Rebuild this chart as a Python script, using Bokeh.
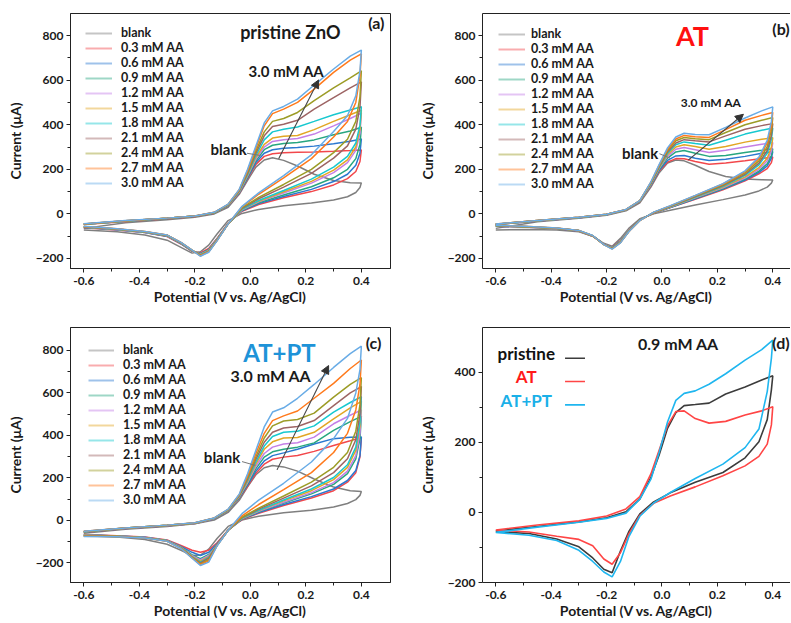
from bokeh.plotting import figure
from bokeh.layouts import column, row
from bokeh.models import (Range1d, FixedTicker, CustomJSTickFormatter, Legend, LegendItem,
                          Label, Arrow, NormalHead, LinearAxis)
from bokeh.embed import file_html
from bokeh.resources import INLINE

# ---------------- data ----------------
E_FWD = [-0.6, -0.45, -0.3, -0.2, -0.13, -0.08, -0.04, -0.01, 0.02, 0.05, 0.08, 0.12, 0.17, 0.23, 0.3, 0.36, 0.4]
E_REV = [0.4, 0.395, 0.38, 0.35, 0.3, 0.22, 0.12, 0.03, -0.03, -0.08, -0.12, -0.15, -0.18, -0.21, -0.25, -0.3, -0.38, -0.48, -0.6]

SERIES = ["blank", "0.3 mM AA", "0.6 mM AA", "0.9 mM AA", "1.2 mM AA", "1.5 mM AA",
          "1.8 mM AA", "2.1 mM AA", "2.4 mM AA", "2.7 mM AA", "3.0 mM AA"]
SERIES_COLORS = ["#7f7f7f", "#f2474b", "#2a78d0", "#27a680", "#c47fe6", "#e2a624",
                 "#17c8cf", "#9d6464", "#9c9c26", "#ff7a1c", "#69ace6"]

X_TICKS = [-0.6, -0.4, -0.2, 0.0, 0.2, 0.4]
X_MINOR = [-0.5, -0.3, -0.1, 0.1, 0.3]
Y_TICKS_ABC = [-200, 0, 200, 400, 600, 800]
Y_MINOR_ABC = [-100, 100, 300, 500, 700]
Y_TICKS_D = [-200, 0, 200, 400]
Y_MINOR_D = [-100, 100, 300]
X_LABEL = "Potential (V vs. Ag/AgCl)"
Y_LABEL = "Current (\u03bcA)"

# (a) pristine ZnO -- forward (E_FWD) and reverse (E_REV) currents, uA
A_F_BLANK = [-65, -40, -26, -15, 0, 30, 88, 150, 210, 242, 252, 240, 215, 178, 150, 140, 139]
A_F_03 = [-48, -34, -22, -12, 3, 35, 92, 158, 222, 258, 270, 274, 276, 278, 281, 284, 287]
A_F_06 = [-47, -33, -21, -11, 4, 36, 94, 162, 230, 272, 288, 294, 298, 304, 315, 326, 336]
A_F_09 = [-47, -33, -21, -11, 4, 37, 96, 166, 238, 288, 308, 316, 320, 332, 355, 372, 389]
A_F_12 = [-46, -32, -20, -10, 5, 38, 98, 170, 246, 300, 325, 333, 338, 358, 395, 428, 452]
A_F_15 = [-46, -32, -20, -10, 5, 39, 100, 174, 254, 312, 340, 348, 352, 378, 415, 445, 465]
A_F_18 = [-46, -32, -20, -10, 5, 40, 102, 178, 262, 332, 368, 380, 390, 415, 445, 466, 481]
A_F_21 = [-45, -31, -20, -10, 6, 41, 104, 183, 272, 350, 392, 402, 420, 470, 522, 565, 592]
A_F_24 = [-45, -31, -19, -9, 6, 42, 106, 188, 282, 368, 415, 428, 455, 508, 565, 610, 642]
A_F_27 = [-45, -31, -19, -9, 7, 43, 108, 194, 295, 395, 450, 470, 500, 560, 635, 690, 718]
A_F_30 = [-44, -30, -19, -9, 7, 44, 110, 200, 305, 408, 462, 482, 515, 578, 650, 708, 735]

A_R_BLANK = [139, 118, 96, 77, 62, 49, 37, 20, 2, -30, -90, -140, -170, -176, -150, -118, -95, -80, -72]
A_R_03 = [287, 235, 190, 158, 130, 100, 72, 42, 12, -42, -110, -155, -175, -168, -135, -102, -84, -72, -62]
A_R_06 = [336, 272, 218, 178, 145, 110, 78, 46, 14, -43, -112, -160, -178, -167, -133, -100, -83, -71, -61]
A_R_09 = [389, 312, 248, 200, 162, 122, 85, 50, 16, -44, -114, -162, -180, -166, -132, -99, -82, -70, -60]
A_R_12 = [452, 362, 285, 230, 185, 138, 94, 54, 18, -44, -115, -164, -181, -165, -131, -98, -82, -70, -59]
A_R_15 = [465, 380, 300, 242, 196, 146, 99, 57, 20, -45, -116, -165, -182, -165, -130, -97, -81, -69, -59]
A_R_18 = [481, 398, 318, 258, 210, 156, 105, 60, 22, -45, -117, -166, -183, -164, -130, -97, -81, -69, -58]
A_R_21 = [592, 480, 380, 305, 250, 182, 120, 68, 25, -45, -118, -168, -185, -164, -129, -96, -80, -68, -58]
A_R_24 = [642, 525, 415, 335, 275, 200, 132, 74, 28, -45, -119, -169, -186, -163, -129, -96, -80, -68, -57]
A_R_27 = [718, 620, 500, 415, 345, 248, 162, 88, 32, -45, -120, -170, -188, -163, -128, -95, -79, -67, -57]
A_R_30 = [735, 640, 530, 440, 370, 265, 172, 94, 34, -45, -121, -172, -190, -163, -128, -95, -79, -67, -56]

# (b) AT
B_F_BLANK = [-65, -35, -20, -6, 14, 50, 120, 185, 228, 242, 238, 218, 190, 168, 156, 153, 152]
B_F_03 = [-48, -32, -17, -4, 17, 54, 126, 192, 232, 248, 247, 235, 223, 228, 238, 248, 255]
B_F_06 = [-48, -32, -17, -4, 17, 55, 128, 196, 240, 260, 262, 250, 240, 245, 258, 272, 280]
B_F_09 = [-47, -31, -16, -3, 18, 56, 130, 200, 250, 278, 284, 272, 258, 262, 275, 285, 292]
B_F_12 = [-47, -31, -16, -3, 18, 57, 132, 204, 258, 290, 298, 288, 275, 285, 300, 312, 320]
B_F_15 = [-47, -31, -16, -3, 18, 57, 134, 207, 265, 300, 310, 302, 290, 302, 322, 335, 342]
B_F_18 = [-46, -31, -16, -3, 19, 58, 136, 210, 272, 310, 323, 316, 308, 330, 358, 375, 385]
B_F_21 = [-46, -30, -15, -2, 19, 58, 138, 213, 278, 318, 333, 328, 323, 350, 380, 396, 405]
B_F_24 = [-46, -30, -15, -2, 19, 59, 140, 216, 284, 328, 343, 337, 333, 365, 400, 420, 432]
B_F_27 = [-45, -30, -15, -2, 20, 59, 142, 219, 290, 336, 352, 346, 343, 378, 420, 442, 455]
B_F_30 = [-45, -30, -15, -2, 20, 60, 144, 222, 296, 345, 362, 356, 355, 388, 430, 462, 480]

B_R_BLANK = [152, 138, 120, 103, 85, 64, 40, 16, 0, -22, -65, -110, -145, -132, -100, -80, -72, -70, -72]
B_R_03 = [255, 230, 203, 180, 148, 108, 66, 28, 3, -26, -75, -120, -148, -136, -100, -77, -66, -60, -55]
B_R_06 = [280, 250, 215, 186, 152, 111, 68, 29, 4, -26, -76, -122, -150, -136, -100, -77, -66, -60, -55]
B_R_09 = [292, 262, 225, 192, 156, 114, 70, 30, 4, -27, -77, -123, -151, -136, -99, -76, -65, -59, -54]
B_R_12 = [320, 282, 238, 200, 161, 117, 72, 31, 5, -27, -77, -124, -152, -136, -99, -76, -65, -59, -54]
B_R_15 = [342, 300, 250, 208, 166, 120, 74, 32, 5, -28, -78, -125, -153, -137, -99, -76, -65, -59, -53]
B_R_18 = [385, 335, 272, 220, 173, 124, 76, 33, 6, -28, -78, -126, -154, -137, -98, -75, -64, -58, -53]
B_R_21 = [405, 352, 285, 228, 178, 127, 78, 34, 6, -29, -79, -127, -155, -137, -98, -75, -64, -58, -52]
B_R_24 = [432, 375, 302, 238, 184, 130, 80, 35, 7, -29, -79, -128, -156, -138, -98, -75, -64, -58, -52]
B_R_27 = [455, 395, 318, 248, 190, 134, 82, 36, 7, -30, -80, -129, -157, -138, -98, -74, -63, -57, -51]
B_R_30 = [480, 415, 330, 255, 193, 136, 83, 37, 8, -30, -80, -130, -158, -138, -97, -74, -63, -57, -51]

# (c) AT+PT
C_F_BLANK = [-60, -42, -28, -16, 2, 38, 95, 158, 215, 248, 259, 252, 232, 195, 157, 140, 136]
C_F_03 = [-55, -38, -25, -14, 8, 44, 105, 160, 222, 265, 288, 298, 306, 325, 353, 375, 390]
C_F_06 = [-54, -38, -25, -14, 8, 45, 107, 166, 232, 280, 305, 318, 335, 360, 385, 391, 393]
C_F_09 = [-54, -37, -24, -13, 9, 46, 109, 172, 244, 298, 323, 335, 345, 365, 424, 465, 490]
C_F_12 = [-53, -37, -24, -13, 9, 47, 111, 178, 255, 315, 345, 360, 366, 392, 455, 495, 520]
C_F_15 = [-53, -37, -24, -13, 10, 48, 113, 184, 266, 335, 370, 388, 390, 415, 478, 530, 560]
C_F_18 = [-53, -36, -23, -12, 10, 49, 115, 190, 276, 350, 395, 415, 420, 445, 510, 555, 582]
C_F_21 = [-52, -36, -23, -12, 11, 50, 117, 196, 288, 368, 415, 435, 442, 470, 540, 600, 630]
C_F_24 = [-52, -36, -23, -12, 11, 51, 119, 202, 300, 388, 445, 468, 475, 505, 580, 640, 672]
C_F_27 = [-51, -35, -22, -11, 12, 52, 121, 210, 315, 410, 470, 492, 515, 575, 645, 715, 755]
C_F_30 = [-51, -35, -22, -11, 12, 53, 124, 220, 330, 440, 510, 530, 575, 640, 720, 785, 820]

C_R_BLANK = [136, 118, 98, 80, 63, 48, 36, 20, 2, -28, -85, -135, -163, -165, -140, -112, -90, -78, -72]
C_R_03 = [390, 300, 225, 180, 140, 106, 70, 34, 4, -45, -105, -140, -150, -140, -118, -92, -78, -72, -66]
C_R_06 = [393, 305, 235, 188, 148, 112, 75, 37, 6, -46, -110, -150, -165, -150, -122, -94, -79, -73, -67]
C_R_09 = [490, 385, 290, 220, 170, 125, 82, 41, 8, -46, -114, -160, -180, -162, -125, -95, -80, -73, -68]
C_R_12 = [520, 410, 305, 232, 178, 131, 86, 43, 9, -46, -115, -165, -186, -166, -126, -95, -80, -74, -69]
C_R_15 = [560, 445, 330, 250, 192, 140, 92, 46, 10, -46, -116, -170, -192, -170, -127, -96, -81, -74, -70]
C_R_18 = [582, 462, 345, 262, 202, 148, 96, 48, 11, -46, -116, -174, -196, -172, -128, -96, -81, -75, -71]
C_R_21 = [630, 500, 380, 290, 225, 163, 105, 53, 13, -46, -117, -178, -200, -174, -129, -97, -82, -75, -72]
C_R_24 = [672, 545, 420, 320, 250, 180, 115, 58, 15, -46, -118, -185, -204, -174, -130, -97, -82, -76, -73]
C_R_27 = [755, 640, 520, 410, 320, 225, 145, 75, 22, -46, -118, -190, -208, -176, -131, -98, -83, -76, -74]
C_R_30 = [820, 710, 600, 480, 385, 275, 175, 96, 32, -46, -120, -196, -212, -178, -132, -98, -83, -77, -75]

# (d) 0.9 mM AA comparison
D_NAMES = ["pristine", "AT", "AT+PT"]
D_TEXT_COLORS = ["#111111", "#ff1a1a", "#1ab0e8"]
D_LINE_COLORS = ["#3c3c3c", "#ff4545", "#1fb6ef"]
D_F_PRISTINE = [-53, -40, -27, -15, 2, 38, 100, 165, 240, 285, 305, 308, 312, 338, 358, 378, 390]
D_R_PRISTINE = [390, 350, 265, 202, 156, 114, 86, 56, 30, -4, -55, -110, -172, -162, -130, -98, -76, -60, -55]
D_F_AT = [-50, -36, -24, -10, 10, 45, 110, 178, 248, 288, 290, 268, 255, 260, 278, 290, 302]
D_R_AT = [302, 250, 195, 160, 133, 105, 73, 47, 26, -8, -62, -115, -148, -133, -95, -77, -68, -56, -50]
D_F_ATPT = [-57, -42, -28, -17, -2, 38, 95, 172, 258, 320, 340, 347, 366, 396, 435, 465, 492]
D_R_ATPT = [492, 440, 345, 238, 185, 138, 97, 57, 27, -11, -70, -140, -184, -170, -140, -108, -80, -65, -57]

A_FWD = [A_F_BLANK, A_F_03, A_F_06, A_F_09, A_F_12, A_F_15, A_F_18, A_F_21, A_F_24, A_F_27, A_F_30]
A_REV = [A_R_BLANK, A_R_03, A_R_06, A_R_09, A_R_12, A_R_15, A_R_18, A_R_21, A_R_24, A_R_27, A_R_30]
B_FWD = [B_F_BLANK, B_F_03, B_F_06, B_F_09, B_F_12, B_F_15, B_F_18, B_F_21, B_F_24, B_F_27, B_F_30]
B_REV = [B_R_BLANK, B_R_03, B_R_06, B_R_09, B_R_12, B_R_15, B_R_18, B_R_21, B_R_24, B_R_27, B_R_30]
C_FWD = [C_F_BLANK, C_F_03, C_F_06, C_F_09, C_F_12, C_F_15, C_F_18, C_F_21, C_F_24, C_F_27, C_F_30]
C_REV = [C_R_BLANK, C_R_03, C_R_06, C_R_09, C_R_12, C_R_15, C_R_18, C_R_21, C_R_24, C_R_27, C_R_30]
D_FWD = [D_F_PRISTINE, D_F_AT, D_F_ATPT]
D_REV = [D_R_PRISTINE, D_R_AT, D_R_ATPT]

# ---------------- styling helpers ----------------
FONT = "Lato"
INK = "#1a1a1a"
NAN = float("nan")


def make_fig(width, height, bl, br, bt, bb, xr, yr, yticks, yminor, box_right):
    p = figure(width=width, height=height, x_range=Range1d(*xr), y_range=Range1d(*yr),
               output_backend="svg", toolbar_location=None,
               min_border_left=bl, min_border_right=br, min_border_top=bt, min_border_bottom=bb)
    p.grid.visible = False
    p.background_fill_color = "white"
    p.border_fill_color = "white"
    p.outline_line_color = "#222222" if box_right else None
    p.outline_line_width = 1
    for ax in (p.xaxis[0], p.yaxis[0]):
        ax.axis_line_color = "#222222"
        ax.axis_line_width = 1
        ax.major_tick_line_color = "#222222"
        ax.minor_tick_line_color = "#222222"
        ax.major_tick_out = 4
        ax.major_tick_in = 0
        ax.minor_tick_out = 3
        ax.minor_tick_in = 0
        ax.major_label_text_font = FONT
        ax.major_label_text_font_style = "bold"
        ax.major_label_text_font_size = "12px"
        ax.major_label_text_color = INK
        ax.axis_label_text_font = FONT
        ax.axis_label_text_font_style = "bold"
        ax.axis_label_text_font_size = "14px"
        ax.axis_label_text_color = INK
    p.xaxis.ticker = FixedTicker(ticks=X_TICKS, minor_ticks=X_MINOR)
    p.xaxis.formatter = CustomJSTickFormatter(code="return tick.toFixed(1);")
    p.xaxis.axis_label = X_LABEL
    p.xaxis.major_label_standoff = 4
    p.xaxis.axis_label_standoff = 0
    p.yaxis.ticker = FixedTicker(ticks=yticks, minor_ticks=yminor)
    p.yaxis.axis_label = Y_LABEL
    p.yaxis.major_label_standoff = 3
    p.yaxis.axis_label_standoff = 9
    if not box_right:
        top = LinearAxis(ticker=FixedTicker(ticks=[]), major_tick_out=0, major_tick_in=0,
                         minor_tick_out=0, minor_tick_in=0, major_label_standoff=0,
                         major_label_text_font_size="0px", axis_line_color="#222222")
        p.add_layout(top, "above")
    return p


def draw_cvs(p, fwds, revs, colors, width=1.5):
    for f, r, c in zip(fwds, revs, colors):
        p.line(E_FWD + E_REV, f + r, line_color=c, line_width=width)


def add_legend(p, loc, glyph_w, standoff):
    items = []
    for name, c in zip(SERIES, SERIES_COLORS):
        # legend-only swatch (pale, as in the original)
        r = p.line(x=[NAN], y=[NAN], line_color=c, line_width=2, line_alpha=0.45)
        items.append(LegendItem(label=name, renderers=[r]))
    leg = Legend(items=items, location=loc, glyph_width=glyph_w, glyph_height=12,
                 label_height=12, label_standoff=standoff, spacing=0, padding=0, margin=0,
                 border_line_color=None, background_fill_alpha=0,
                 label_text_font=FONT, label_text_font_style="bold",
                 label_text_font_size="12.5px", label_text_color=INK)
    p.add_layout(leg)


def text(p, x, y, s, size, color=INK, align="center"):
    p.add_layout(Label(x=x, y=y, text=s, text_font=FONT, text_font_style="bold",
                       text_font_size=size, text_color=color, text_align=align,
                       text_baseline="middle"))


def arrow(p, x0, y0, x1, y1):
    p.add_layout(Arrow(end=NormalHead(size=8, fill_color="#333333", line_color="#333333", line_width=1),
                       x_start=x0, y_start=y0, x_end=x1, y_end=y1,
                       line_color="#444444", line_width=1.1))


def leader(p, x0, y0, x1, y1, color="#777777", width=1.0):
    p.add_layout(Arrow(end=None, x_start=x0, y_start=y0, x_end=x1, y_end=y1,
                       line_color=color, line_width=width))


XR_LEFT = (-0.648, 0.505)
XR_RIGHT = (-0.648, 0.464)

# ---------------- panel (a) ----------------
pa = make_fig(395, 310, 70, 5, 13, 42, XR_LEFT, (-245, 899), Y_TICKS_ABC, Y_MINOR_ABC, True)
draw_cvs(pa, A_FWD, A_REV, SERIES_COLORS)
add_legend(pa, (15, 78), 27, 9)
text(pa, 0.144, 818, "pristine ZnO", "18px")
text(pa, 0.454, 858, "(a)", "16px")
text(pa, 0.13, 639, "3.0 mM AA", "15px")
arrow(pa, 0.102, 247, 0.246, 601)
text(pa, -0.078, 292, "blank", "15px")
leader(pa, -0.012, 272, 0.036, 262)

# ---------------- panel (b) ----------------
pb = make_fig(395, 310, 87, 0, 13, 42, XR_RIGHT, (-245, 899), Y_TICKS_ABC, Y_MINOR_ABC, False)
draw_cvs(pb, B_FWD, B_REV, SERIES_COLORS)
add_legend(pb, (16, 77), 27, 6)
text(pb, 0.11, 799, "AT", "27px", color="#ff1010")
text(pb, 0.461, 830, "(b)", "16px", align="right")
text(pb, 0.177, 498, "3.0 mM AA", "12px")
arrow(pb, 0.095, 241, 0.294, 447)
text(pb, -0.079, 275, "blank", "15px")
leader(pb, -0.009, 270, 0.029, 250)

# ---------------- panel (c) ----------------
pc = make_fig(395, 312, 70, 5, 17, 40, XR_LEFT, (-292, 908), Y_TICKS_ABC, Y_MINOR_ABC, True)
draw_cvs(pc, C_FWD, C_REV, SERIES_COLORS)
add_legend(pc, (18, 75), 26, 9)
text(pc, 0.105, 792, "AT+PT", "24px", color="#1e93d8")
text(pc, 0.444, 839, "(c)", "16px")
text(pc, 0.074, 682, "3.0 mM AA", "16px")
arrow(pc, 0.096, 238, 0.282, 729)
text(pc, -0.102, 298, "blank", "15px")
leader(pc, -0.03, 277, 0.018, 259)

# ---------------- panel (d) ----------------
pd_ = make_fig(395, 312, 87, 0, 17, 40, XR_RIGHT, (-200, 528), Y_TICKS_D, Y_MINOR_D, False)
draw_cvs(pd_, D_FWD, D_REV, D_LINE_COLORS, width=1.6)
text(pd_, 0.059, 483, "0.9 mM AA", "16px")
text(pd_, 0.461, 486, "(d)", "16px", align="right")
for name, tc, lc, yy in zip(D_NAMES, D_TEXT_COLORS, D_LINE_COLORS, [454, 388, 321]):
    text(pd_, -0.49, yy, name, "17px", color=tc)
    leader(pd_, -0.35, yy - 14, -0.278, yy - 14, color=lc, width=1.6)

layout = column(row(pa, pb), row(pc, pd_))
open("out.html", "w").write(file_html(layout, INLINE))
